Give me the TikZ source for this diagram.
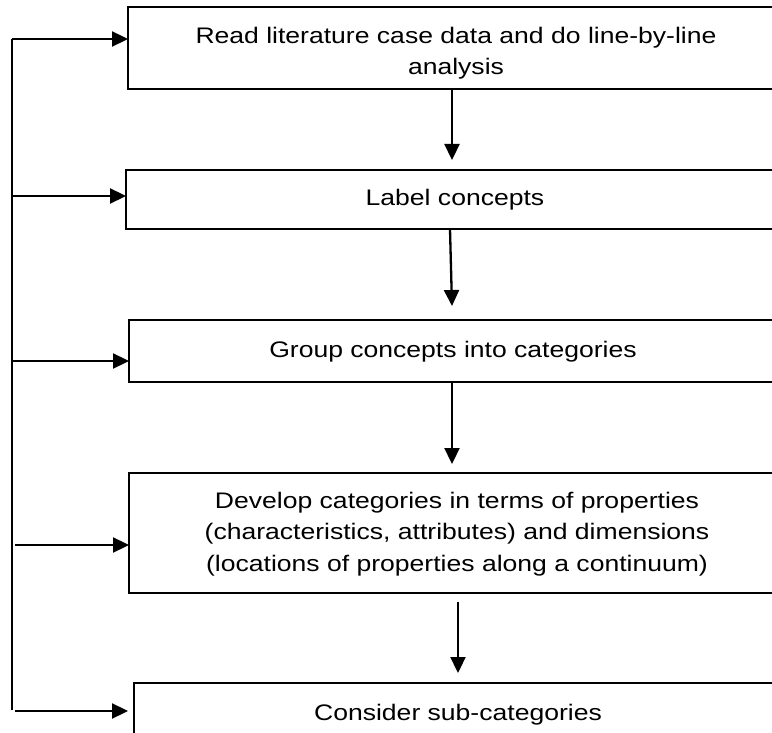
\documentclass[tikz,border=0pt]{standalone}
\usepackage{fontspec}
\setmainfont{Liberation Sans}[FakeStretch=1.18]
\usetikzlibrary{arrows.meta}
\begin{document}
\begin{tikzpicture}[x=1pt,y=-1pt,
  stepbox/.style={draw=black, line width=2.2pt, inner sep=0pt, outer sep=0pt},
  steptext/.style={align=center, inner sep=0pt,
    font=\fontsize{22.5pt}{31.6pt}\selectfont},
  flow/.style={draw=black, line width=2.3pt,
    -{Triangle[length=16pt,width=15pt]}},
  rail/.style={draw=black, line width=2.3pt}]
\useasboundingbox (0,0) rectangle (772,733);
\clip (0,0) rectangle (772,733);

% process boxes (they run past the right margin)
\node[stepbox, minimum width=656pt, minimum height=82pt]  (b1) at (456,48)    {};
\node[stepbox, minimum width=660pt, minimum height=59pt]  (b2) at (456,199.5) {};
\node[stepbox, minimum width=654pt, minimum height=62pt]  (b3) at (456,351)   {};
\node[stepbox, minimum width=654pt, minimum height=120pt] (b4) at (456,533)   {};
\node[stepbox, minimum width=644pt, minimum height=107pt] (b5) at (456,736.5) {};

% box texts
\node[steptext] (t1) at (456,53)
  {Read literature case data and do line-by-line\\analysis};
\node[steptext] (t2) at (455,200) {Label concepts};
\node[steptext] (t3) at (453,352)   {Group concepts into categories};
\node[steptext] (t4) at (457,534)
  {Develop categories in terms of properties\\(characteristics, attributes) and dimensions\\(locations of properties along a continuum)};
\node[steptext] (t5) at (458,715)   {Consider sub-categories};

% downward steps
\coordinate (d1) at (452,160);
\coordinate (d2) at (452,306);
\coordinate (d3) at (452,464);
\coordinate (d4) at (458,673);
\coordinate (s2) at (450,229);
\coordinate (s4) at (458,602);
\draw[flow] (b1.south -| d1) -- (d1);
\draw[flow] (s2) -- (d2);
\draw[flow] (b3.south -| d3) -- (d3);
\draw[flow] (s4) -- (d4);

% feedback rail on the left
\coordinate (rtop) at (12,39);
\coordinate (rbot) at (12,710);
\coordinate (h2) at (12,196);
\coordinate (h3) at (12,361);
\coordinate (h4) at (15,545);
\coordinate (h5) at (15,711);
\coordinate (e5) at (128,711);
\draw[rail] (rbot) -- (rtop);
\draw[flow] (rtop) -- (rtop -| b1.west);
\draw[flow] (h2) -- (h2 -| b2.west);
\draw[flow] (h3) -- (h3 -| b3.west);
\draw[flow] (h4) -- (h4 -| b4.west);
\draw[flow] (h5) -- (e5);
\end{tikzpicture}
\end{document}
